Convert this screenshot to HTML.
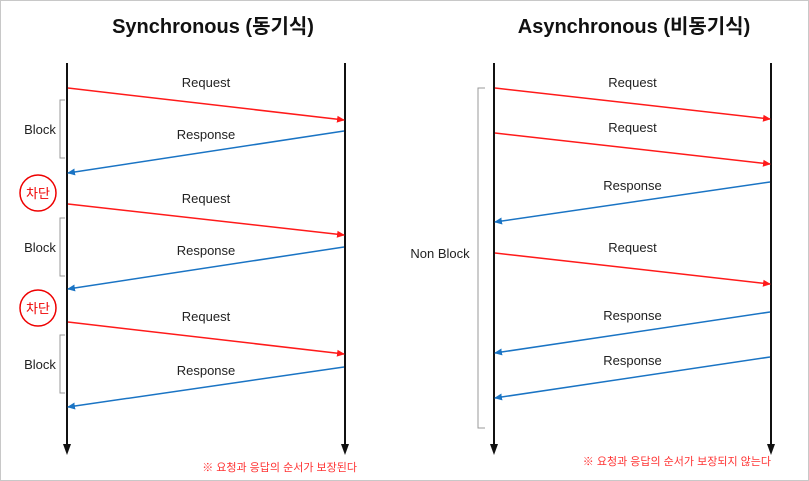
<!DOCTYPE html>
<html><head><meta charset="utf-8">
<style>
html,body{margin:0;padding:0;background:#fff;}
svg{display:block;font-family:"Liberation Sans","Noto Sans CJK KR",sans-serif;}
</style></head>
<body>
<svg id="d" width="809" height="481" viewBox="0 0 809 481" xmlns="http://www.w3.org/2000/svg">
<defs>
<marker id="ar" markerWidth="8" markerHeight="8" refX="7" refY="4" orient="auto" markerUnits="userSpaceOnUse"><path d="M0,0.5 L8,4 L0,7.5z" fill="#ff1a1a"/></marker>
<marker id="ab" markerWidth="8" markerHeight="8" refX="7" refY="4" orient="auto" markerUnits="userSpaceOnUse"><path d="M0,0.5 L8,4 L0,7.5z" fill="#1a74c4"/></marker>
</defs>
<rect x="0.5" y="0.5" width="808" height="480" fill="#fff" stroke="#c8c8c8"/>
<text x="213" y="33" text-anchor="middle" font-size="20" font-weight="bold" fill="#111">Synchronous (동기식)</text>
<text x="634" y="33" text-anchor="middle" font-size="20" font-weight="bold" fill="#111">Asynchronous (비동기식)</text>
<g id="g"></g>
<text x="357" y="471" text-anchor="end" font-size="11" fill="#ff3333">※ 요청과 응답의 순서가 보장된다</text>
<text x="771" y="465" text-anchor="end" font-size="11" fill="#ff3333">※ 요청과 응답의 순서가 보장되지 않는다</text>
</svg>
<script>
const syncKinds=["req","res","req","res","req","res"];
const syncStartY=[88,131,204,247,322,367];
const syncEndY=[120,173,235,289,354,407];
const asyncKinds=["req","req","res","req","res","res"];
const asyncStartY=[88,133,182,253,312,357];
const asyncEndY=[119,164,222,284,353,398];
const syncBlocks=[[100,158],[218,276],[335,393]];
const blockedY=[193,308];

const NS="http://www.w3.org/2000/svg";
const g=document.getElementById('g');
function mk(t,a){const e=document.createElementNS(NS,t);for(const k in a)e.setAttribute(k,a[k]);g.appendChild(e);return e;}

function lifeline(x,name){
  let e=mk('line',{x1:x,y1:63,x2:x,y2:446,stroke:'#111','stroke-width':2});
  
  
  e=mk('polygon',{points:`${x-4},444 ${x+4},444 ${x},455`,fill:'#111'});
  
  
}

function panel(xl,xr,kinds,sy,ey,pref){
  lifeline(xl,pref+'-client-lifeline');
  lifeline(xr,pref+'-server-lifeline');
  const cx=(xl+xr)/2;
  kinds.forEach((k,i)=>{
    const req=k==="req";
    const a=mk('line',req?{x1:xl+1,y1:sy[i],x2:xr-1,y2:ey[i],stroke:'#ff1a1a','stroke-width':1.5,'marker-end':'url(#ar)'}
                         :{x1:xr-1,y1:sy[i],x2:xl+1,y2:ey[i],stroke:'#1a74c4','stroke-width':1.5,'marker-end':'url(#ab)'});
    
    
    const ly=req?Math.min(sy[i],ey[i])-1:Math.min(sy[i],ey[i])+8;
    const t=mk('text',{x:cx,y:ly,'text-anchor':'middle','font-size':13,fill:'#222'});
    t.textContent=req?"Request":"Response";
    
    
  });
}
panel(67,345,syncKinds,syncStartY,syncEndY,'sync');
panel(494,771,asyncKinds,asyncStartY,asyncEndY,'async');

syncBlocks.forEach(b=>{
  const p=mk('path',{d:`M65,${b[0]} H60 V${b[1]} H65`,fill:'none',stroke:'#999','stroke-width':1});
  
  
  const t=mk('text',{x:40,y:(b[0]+b[1])/2+5,'text-anchor':'middle','font-size':13,fill:'#222'});
  t.textContent="Block";
  
  
});
blockedY.forEach(y=>{
  const c=mk('circle',{cx:38,cy:y,r:18,fill:'none',stroke:'#e00','stroke-width':1.5});
  
  
  const t=mk('text',{x:38,y:y+5,'text-anchor':'middle','font-size':13,fill:'#e00'});
  t.textContent="차단";
  
  
});
const nb=mk('path',{d:'M485,88 H478 V428 H485',fill:'none',stroke:'#999','stroke-width':1});


const nt=mk('text',{x:440,y:258,'text-anchor':'middle','font-size':13,fill:'#222'});
nt.textContent="Non Block";


</script>
</body></html>
